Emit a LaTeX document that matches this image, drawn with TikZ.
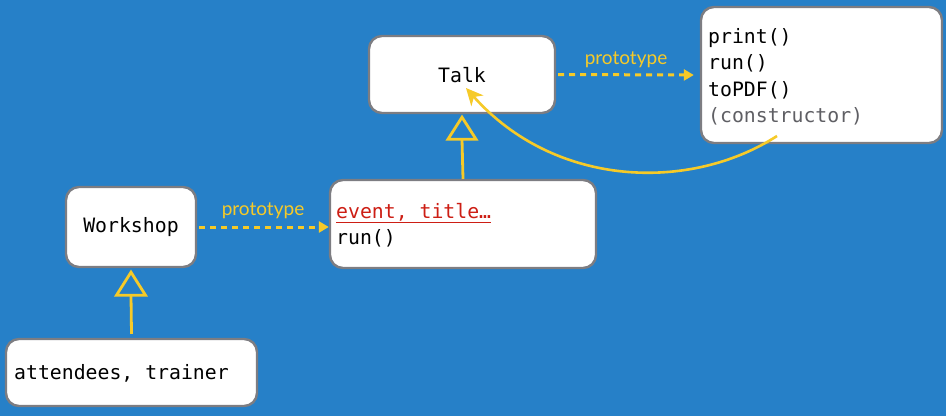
\documentclass[tikz,border=0pt]{standalone}
\usepackage{fontspec}
\setmainfont{Lato}
\setmonofont{DejaVu Sans Mono}
\usetikzlibrary{arrows.meta,calc}
\definecolor{bgblue}{RGB}{38,128,200}
\definecolor{yel}{RGB}{246,202,40}
\definecolor{bordergray}{RGB}{125,125,130}
\definecolor{redtxt}{RGB}{205,30,20}
\definecolor{graytxt}{RGB}{95,95,100}
\tikzset{
  box/.style={draw=bordergray, line width=2.4pt, fill=white, rounded corners=13pt, inner sep=0pt},
  code/.style={font=\ttfamily\fontsize{19.8}{26.5}\selectfont, text=black, inner xsep=0pt},
  proto/.style={yel, line width=3pt, dash pattern=on 6pt off 5pt, -{Triangle[length=10pt,width=11pt]}},
  protolbl/.style={text=yel, font=\fontsize{19}{19}\selectfont},
  inherit/.style={yel, line width=2.8pt},
  tri/.style={yel, line width=2.8pt, line join=miter},
}
\begin{document}
\begin{tikzpicture}[x=1pt,y=-1pt]
\useasboundingbox[fill=bgblue] (0,0) rectangle (946,416);
% boxes
\node[box, minimum width=186pt, minimum height=77pt] (talk) at (462,74.5) {};
\node[code] (talktxt) at (462,75) {Talk};
\node[box, minimum width=241pt, minimum height=136pt] (proto) at (821.5,75) {};
\node[code, anchor=west, align=left] (prototxt) at (708,77) {print()\\run()\\toPDF()\\\textcolor{graytxt}{(constructor)}};
\node[box, minimum width=266pt, minimum height=88pt] (event) at (463,224) {};
\node[code, anchor=west, align=left] (eventtxt) at (336,225) {\textcolor{redtxt}{\underline{event, title…}}\\run()};
\node[box, minimum width=130pt, minimum height=80pt] (workshop) at (131,227) {};
\node[code] (workshoptxt) at (131,227) {Workshop};
\node[box, minimum width=251pt, minimum height=67pt] (att) at (131.5,372.5) {};
\node[code, anchor=west] (atttxt) at (14,373) {attendees, trainer};
% prototype arrows
\draw[proto] ($(talk.east)+(2,0)$) -- ($(proto.west)+(-6,0)$);
\node[protolbl] (pl1) at (626,60) {prototype};
\draw[proto] ($(workshop.east)+(2,0)$) -- (event.west |- workshop.east);
\node[protolbl] (pl2) at (263,211) {prototype};
% inheritance Talk <- event
\coordinate (t1apex) at ($(talk.south)+(0,3)$);
\coordinate (t1base) at ($(talk.south)+(0,25)$);
\draw[inherit] (event.north) -- (t1base);
\draw[tri] (t1apex) -- ($(t1base)+(-14,0)$) -- ($(t1base)+(14,0)$) -- cycle;
% inheritance Workshop <- attendees
\coordinate (t2apex) at ($(workshop.south)+(0,4)$);
\coordinate (t2base) at ($(workshop.south)+(0,27)$);
\draw[inherit] ($(att.north)+(0,-4)$) -- (t2base);
\draw[tri] (t2apex) -- ($(t2base)+(-14.5,0)$) -- ($(t2base)+(14.5,0)$) -- cycle;
% constructor link
\coordinate (cstart) at (777,136);
\coordinate (ctip) at (466,88);
\draw[yel, line width=2.6pt, -{Stealth[length=17pt,width=16pt,inset=5pt]}]
  (cstart) .. controls (690,192) and (555,188) .. (ctip);
\end{tikzpicture}
\end{document}
